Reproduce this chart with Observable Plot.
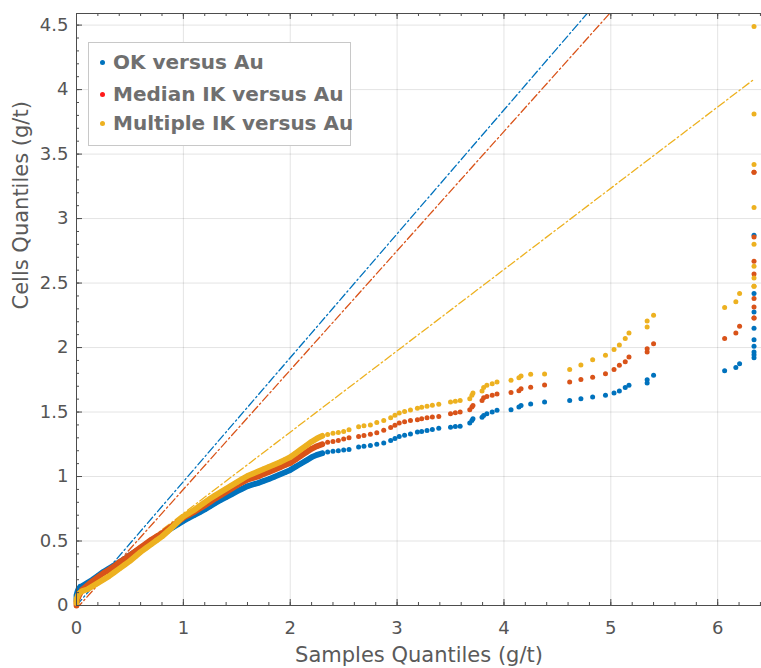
<!DOCTYPE html>
<html><head><meta charset="utf-8">
<script src="https://cdn.jsdelivr.net/npm/d3@7"></script>
<script src="https://cdn.jsdelivr.net/npm/@observablehq/plot@0.6"></script>
<style>
body{margin:0;background:#fff;}
#wrap{position:relative;width:761px;height:668px;overflow:hidden;}
#legend{position:absolute;left:88px;top:42px;width:263px;height:104px;border:1.5px solid #c8c8c8;background:#fff;box-sizing:border-box;font-family:"DejaVu Sans",sans-serif;font-weight:700;font-size:20px;color:#6f6f6f;}
.row{position:absolute;left:0;height:30px;line-height:30px;white-space:nowrap;}
.row span.dot{position:absolute;left:11px;top:13px;width:5px;height:5px;border-radius:50%;}
.row span.t{position:absolute;left:24px;top:0;}
</style></head>
<body><div id="wrap"><div id="chart"></div>
<div id="legend">
<div class="row" style="top:4px"><span class="dot" style="background:#0072BD"></span><span class="t">OK versus Au</span></div>
<div class="row" style="top:36px"><span class="dot" style="background:#ff1a1a"></span><span class="t">Median IK versus Au</span></div>
<div class="row" style="top:65px"><span class="dot" style="background:#EDB120"></span><span class="t">Multiple IK versus Au</span></div>
</div></div>
<script>
// Shared sample quantiles (x) and cell quantiles for each estimate (y)
const xq = [0,0,0.01,0.02,0.035,0.05,0.1,0.15,0.2,0.25,0.3,0.35,0.4,0.45,0.5,0.55,0.6,0.65,0.7,0.75,0.8,0.85,0.9,0.95,1.0,1.05,1.1,1.15,1.2,1.25,1.3,1.35,1.4,1.45,1.5,1.55,1.6,1.65,1.7,1.75,1.8,1.85,1.9,1.95,2.0,2.05,2.1,2.15,2.2,2.25,2.3,
 2.35,2.4,2.45,2.5,2.55,2.64,2.69,2.75,2.81,2.875,2.94,2.98,3.02,3.07,3.125,3.19,3.23,3.28,3.33,3.39,3.5,3.545,3.59,3.68,3.7,3.71,3.795,3.81,3.84,3.89,3.935,
 4.066,4.14,4.16,4.25,4.38,4.615,4.72,4.83,4.95,5.03,5.08,5.135,5.17,5.34,5.34,5.4,6.065,6.17,6.205,6.34,6.34,6.34,6.34,6.34,6.34,6.34,6.34,6.34];
const okY = [0.04,0.08,0.11,0.13,0.145,0.15,0.175,0.2,0.23,0.26,0.285,0.31,0.335,0.36,0.39,0.418,0.445,0.472,0.5,0.528,0.555,0.58,0.605,0.63,0.655,0.678,0.7,0.722,0.745,0.77,0.795,0.818,0.84,0.862,0.885,0.905,0.925,0.938,0.95,0.965,0.98,0.997,1.015,1.032,1.05,1.075,1.1,1.125,1.15,1.168,1.18,
 1.19,1.195,1.2,1.205,1.21,1.228,1.235,1.24,1.25,1.26,1.28,1.295,1.31,1.32,1.33,1.345,1.35,1.357,1.365,1.375,1.383,1.387,1.39,1.415,1.435,1.448,1.46,1.474,1.487,1.5,1.513,
 1.518,1.54,1.55,1.562,1.577,1.59,1.603,1.616,1.63,1.647,1.663,1.69,1.707,1.725,1.75,1.785,1.82,1.845,1.875,1.92,1.945,1.965,2.01,2.06,2.15,2.275,2.42,2.87];
const medianY = [0.0,0.03,0.05,0.07,0.095,0.12,0.155,0.19,0.22,0.25,0.275,0.302,0.335,0.36,0.39,0.42,0.45,0.48,0.51,0.535,0.56,0.59,0.62,0.65,0.68,0.702,0.725,0.75,0.775,0.802,0.83,0.855,0.88,0.905,0.93,0.953,0.975,0.988,1.0,1.018,1.035,1.052,1.07,1.088,1.105,1.132,1.16,1.188,1.215,1.235,1.25,
 1.265,1.272,1.28,1.29,1.3,1.31,1.318,1.327,1.34,1.358,1.38,1.398,1.415,1.425,1.435,1.44,1.447,1.456,1.461,1.466,1.487,1.494,1.5,1.518,1.54,1.55,1.59,1.61,1.62,1.63,1.64,
 1.652,1.665,1.68,1.692,1.71,1.733,1.753,1.77,1.797,1.83,1.862,1.89,1.927,1.965,1.99,2.03,2.07,2.112,2.165,2.23,2.23,2.314,2.38,2.57,2.67,2.857,3.36,3.36];
const multipleY = [0.02,0.05,0.07,0.09,0.1,0.11,0.125,0.15,0.175,0.2,0.225,0.255,0.285,0.315,0.345,0.38,0.415,0.445,0.475,0.505,0.535,0.572,0.61,0.65,0.69,0.715,0.74,0.77,0.8,0.828,0.855,0.88,0.905,0.93,0.955,0.98,1.005,1.022,1.04,1.058,1.075,1.092,1.11,1.13,1.15,1.18,1.21,1.24,1.27,1.295,1.315,
 1.325,1.335,1.342,1.35,1.362,1.385,1.393,1.4,1.418,1.435,1.456,1.475,1.492,1.505,1.515,1.53,1.537,1.544,1.552,1.56,1.577,1.584,1.59,1.603,1.63,1.647,1.663,1.69,1.707,1.72,1.733,
 1.746,1.765,1.78,1.792,1.795,1.83,1.865,1.905,1.94,1.985,2.02,2.07,2.113,2.16,2.205,2.25,2.31,2.355,2.42,2.475,2.475,2.54,2.63,2.8,3.085,3.42,3.81,4.49];
const denseLimit = 2.3; // end of the densely packed part of the quantile cloud
// Reference (dash-dot) lines: end points
const refX = [0, 6.34];
const okLine = [0.0, 6.09];
const medianLine = [-0.025, 5.84];
const multipleLine = [0.083, 4.08];
// Axes
const xTicks = [0,1,2,3,4,5,6];
const yTicks = [0,0.5,1,1.5,2,2.5,3,3.5,4,4.5];
const xDomain = [0, 6.41], yDomain = [0, 4.59];
const colors = {ok:"#0072BD", median:"#D95319", multiple:"#EDB120"};

const series = [["ok", okY], ["median", medianY], ["multiple", multipleY]];
const pts = {};
for (const [k, ys] of series) pts[k] = xq.map((x, i) => ({x, y: ys[i]}));
const lines = [["ok", okLine], ["median", medianLine], ["multiple", multipleLine]];

const W = 761, H = 668, mL = 76, mT = 13, mB = 63, mR = 0;
const fw = W - mL - mR, fh = H - mT - mB;
const minorX = d3.range(0, 6.41, 0.2);
const minorY = d3.range(0, 4.59, 0.1);
const axisColor = "#4d4d4d";
const dash = "8,3,1.5,3";
const font = "'DejaVu Sans', sans-serif";

const marks = [
  Plot.gridX({ticks: xTicks, stroke: "#000", strokeOpacity: 0.11}),
  Plot.gridY({ticks: yTicks, stroke: "#000", strokeOpacity: 0.11}),
];
for (const [k, ys] of lines) {
  marks.push(Plot.line(refX.map((x, i) => ({x, y: ys[i]})), {x: "x", y: "y", stroke: colors[k], strokeWidth: 1.3, strokeDasharray: dash, clip: true}));
}
for (const [k] of series) {
  marks.push(Plot.line(pts[k].filter(d => d.x <= denseLimit), {x: "x", y: "y", stroke: colors[k], strokeWidth: 5.8, strokeLinecap: "round", strokeLinejoin: "round"}));
  marks.push(Plot.dot(pts[k], {x: "x", y: "y", fill: colors[k], r: 2.5}));
}
marks.push(
  Plot.ruleX([xDomain[0]], {stroke: axisColor}),
  Plot.ruleY([yDomain[0]], {stroke: axisColor}),
  Plot.ruleY([yDomain[1]], {stroke: axisColor}),
  Plot.tickX(minorX, {x: d => d, insetTop: fh - 3, stroke: axisColor}),
  Plot.tickX(xTicks, {x: d => d, insetTop: fh - 6, stroke: axisColor}),
  Plot.tickX(minorX, {x: d => d, insetBottom: fh - 3, stroke: axisColor}),
  Plot.tickX(xTicks, {x: d => d, insetBottom: fh - 6, stroke: axisColor}),
  Plot.tickY(minorY, {y: d => d, insetRight: fw - 3, stroke: axisColor}),
  Plot.tickY(yTicks, {y: d => d, insetRight: fw - 6, stroke: axisColor}),
  Plot.axisX({ticks: xTicks, tickSize: 0, tickPadding: 16, fontSize: 18, label: null, tickFormat: d => String(d), fill: "#555"}),
  Plot.axisY({ticks: yTicks, tickSize: 0, tickPadding: 8, fontSize: 18, label: null, tickFormat: d => String(d), fill: "#555"}),
  Plot.text(["Samples Quantiles (g/t)"], {text: d => d, frameAnchor: "bottom", dy: 56, fontSize: 21, fill: "#5a5a5a"}),
  Plot.text(["Cells Quantiles (g/t)"], {text: d => d, frameAnchor: "left", dx: -55, rotate: -90, fontSize: 21, fill: "#5a5a5a"})
);

const chart = Plot.plot({
  width: W, height: H, marginLeft: mL, marginTop: mT, marginBottom: mB, marginRight: mR,
  x: {domain: xDomain}, y: {domain: yDomain},
  style: {fontFamily: font, color: "#555", background: "white", overflow: "visible"},
  marks
});
document.getElementById("chart").appendChild(chart);
</script>
</body></html>
